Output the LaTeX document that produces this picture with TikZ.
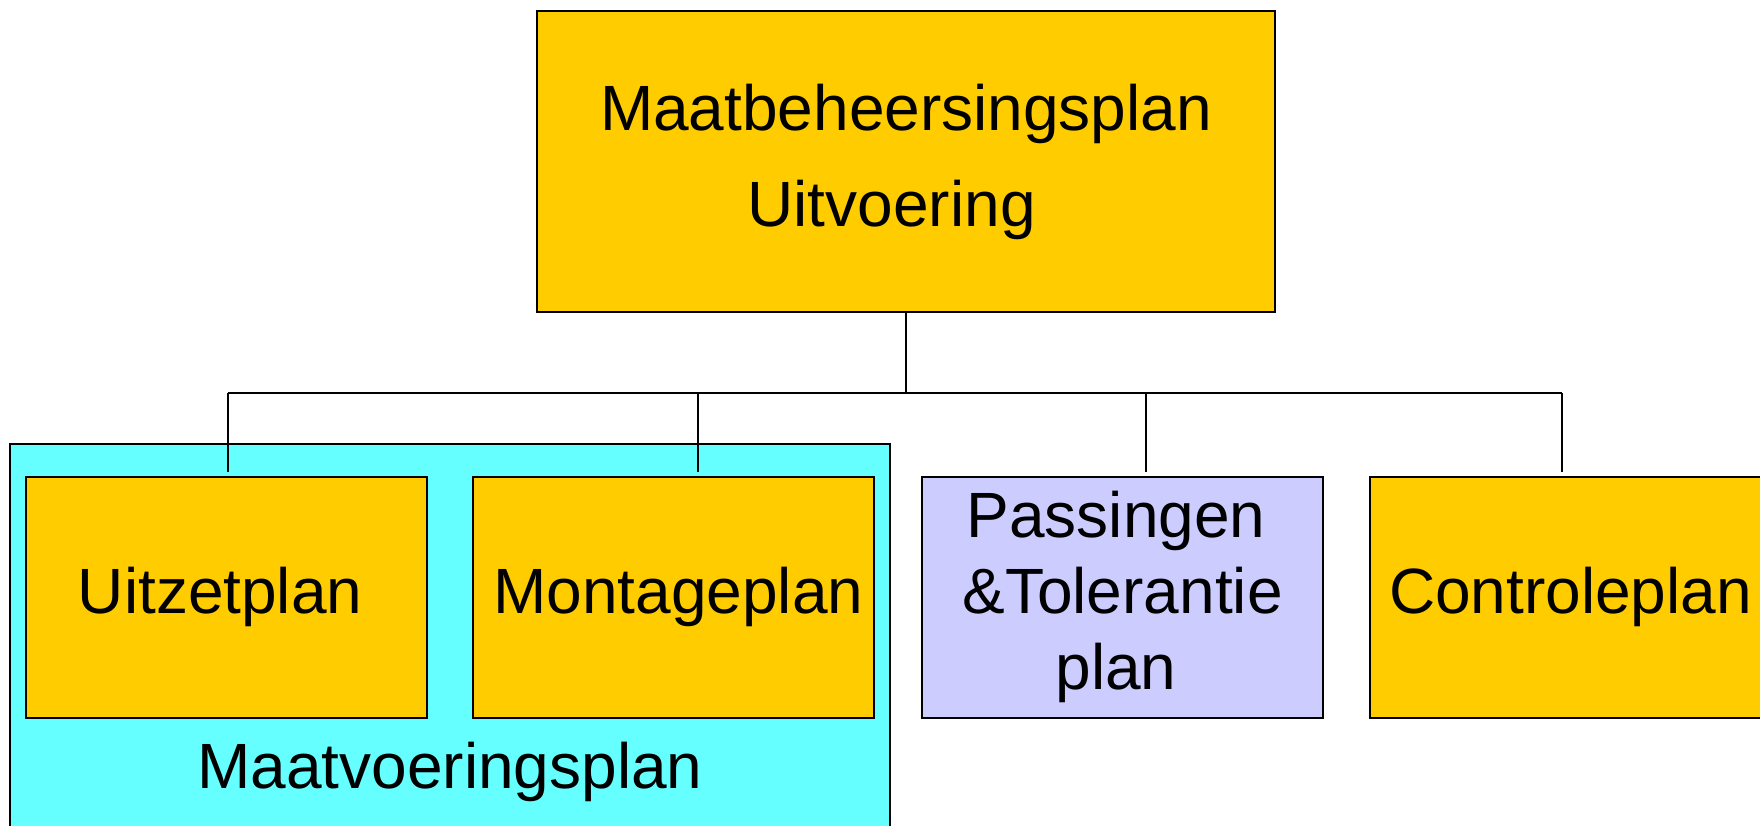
\documentclass[tikz,border=0pt]{standalone}
\usepackage{fontspec}
\setmainfont{Liberation Sans}
\definecolor{planyellow}{HTML}{FFCC00}
\definecolor{plancyan}{HTML}{66FFFF}
\definecolor{planlilac}{HTML}{CCCCFF}
\begin{document}
\begin{tikzpicture}[x=1pt,y=-1pt,
  plan/.style={draw,line width=2pt,fill=planyellow,minimum width=401pt,minimum height=241pt,
    font=\fontsize{64}{76}\selectfont,align=center},
  link/.style={line width=2.4pt}]
\clip (0,0) rectangle (1760,826);
% group box behind the first two plans
\node [draw,line width=2pt,fill=plancyan,minimum width=880pt,minimum height=460pt] (group) at (450,674) {};
\node [font=\fontsize{64}{76}\selectfont] (grouplabel) at (450,772) {Maatvoeringsplan};
\node [plan,minimum width=738pt,minimum height=301pt,font=\fontsize{64}{96}\selectfont] (top) at (906,161.5)
  {Maatbeheersingsplan\\Uitvoering\hspace*{0.45em}};
\node [plan] (uitzet) at (226.5,597) {Uitzetplan\hspace*{0.2em}};
\node [plan] (montage) at (673.5,597) {\hspace*{0.15em}Montageplan};
\node [plan,fill=planlilac] (passing) at (1122.5,597)
  {Passingen\hspace*{0.2em}\\\&Tolerantie\hspace*{0.45em}\\plan\hspace*{0.2em}};
\node [plan] (controle) at (1570.5,597) {Controleplan};
\coordinate (bus) at (906,393);
\coordinate (d1) at (228,472);
\coordinate (d2) at (698,472);
\coordinate (d3) at (1146,472);
\coordinate (d4) at (1562,472);
\draw [link] (top.south) -- (bus);
\draw [link] (d1 |- bus) -- (d4 |- bus);
\foreach \d in {d1,d2,d3,d4}
  \draw [link] (\d |- bus) -- (\d);
\end{tikzpicture}
\end{document}
